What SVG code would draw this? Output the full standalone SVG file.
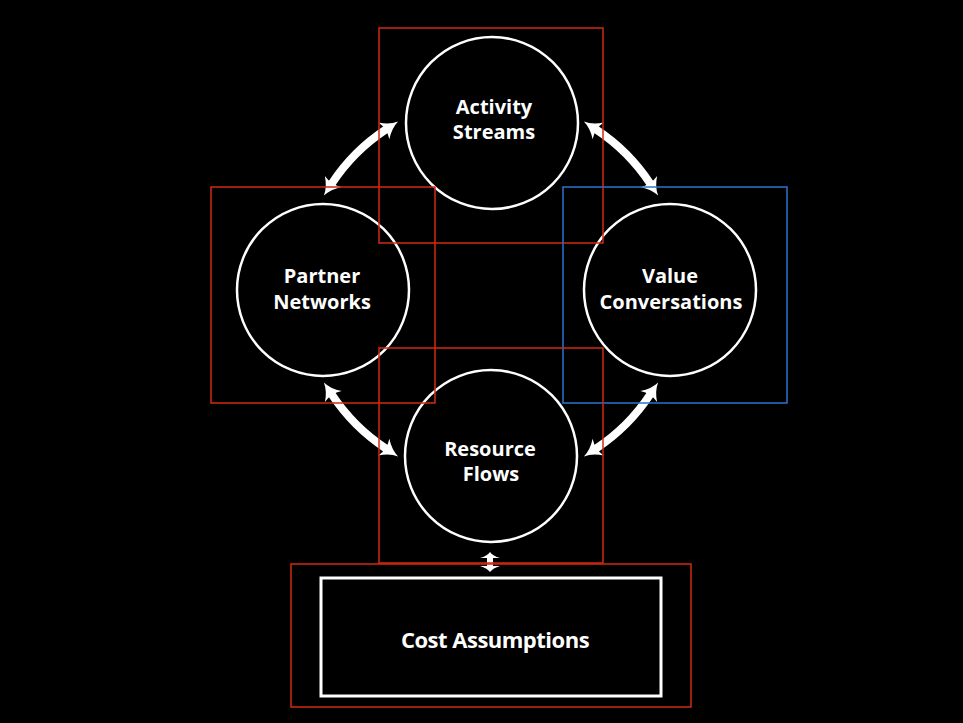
<svg xmlns="http://www.w3.org/2000/svg" width="963" height="723" viewBox="0 0 963 723">
  <style>
    .node circle { fill: #000; stroke: #fff; stroke-width: 2.5; }
    .label { font-family: "Open Sans", "Liberation Sans", sans-serif; font-weight: bold; font-size: 20px; fill: #fff; text-anchor: middle; }
    .big { font-size: 22px; letter-spacing: -0.5px; }
    .conn { fill: none; stroke: #fff; stroke-width: 8; marker-start: url(#head); marker-end: url(#head); }
    .red { fill: none; stroke: #D42A12; stroke-width: 1.5; }
    .blue { fill: none; stroke: #2B73D0; stroke-width: 1.5; }
  </style>
  <defs>
    <marker id="head" markerUnits="userSpaceOnUse" markerWidth="20" markerHeight="20" refX="2" refY="0" orient="auto-start-reverse" overflow="visible">
      <path d="M16,0 Q7,-2 -1,-10 Q3,0 -1,10 Q7,2 16,0 Z" fill="#fff"/>
    </marker>
  </defs>
  <rect x="0" y="0" width="963" height="723" fill="#000"/>

  <g id="activity-streams" class="node">
    <circle cx="492" cy="123" r="86"/>
    <text class="label" x="494" y="114">Activity</text>
    <text class="label" x="494" y="139">Streams</text>
  </g>
  <g id="partner-networks" class="node">
    <circle cx="323" cy="290" r="86"/>
    <text class="label" x="322" y="283">Partner</text>
    <text class="label" x="322" y="309">Networks</text>
  </g>
  <g id="value-conversations" class="node">
    <circle cx="670" cy="290" r="86"/>
    <text class="label" x="670" y="283">Value</text>
    <text class="label" x="671" y="309">Conversations</text>
  </g>
  <g id="resource-flows" class="node">
    <circle cx="491" cy="456" r="86"/>
    <text class="label" x="490" y="456">Resource</text>
    <text class="label" x="491" y="481">Flows</text>
  </g>
  <g id="cost-assumptions" class="node">
    <rect x="321" y="578" width="340" height="118" fill="#000" stroke="#fff" stroke-width="3"/>
    <text class="label big" x="495" y="648">Cost Assumptions</text>
  </g>

  <g id="connectors">
    <path class="conn" d="M331.6,183.9 A191,191 0 0 1 386.4,129.2"/>
    <path class="conn" d="M595.6,129.2 A191,191 0 0 1 650.4,183.9"/>
    <path class="conn" d="M650.4,394.1 A191,191 0 0 1 595.6,448.8"/>
    <path class="conn" d="M386.4,448.8 A191,191 0 0 1 331.6,394.1"/>
    <path d="M490,552 Q487,556 480,558 L487,558 L487,566 L480,566 Q487,568 490,572 Q493,568 500,566 L493,566 L493,558 L500,558 Q493,556 490,552 Z" fill="#fff"/>
  </g>

  <g id="frames">
    <rect class="red" x="379" y="28" width="224" height="215"/>
    <rect class="red" x="211" y="187" width="224" height="216"/>
    <rect class="blue" x="563" y="187" width="224" height="216"/>
    <rect class="red" x="379" y="348" width="224" height="215"/>
    <rect class="red" x="291" y="564" width="400" height="143"/>
  </g>
</svg>
